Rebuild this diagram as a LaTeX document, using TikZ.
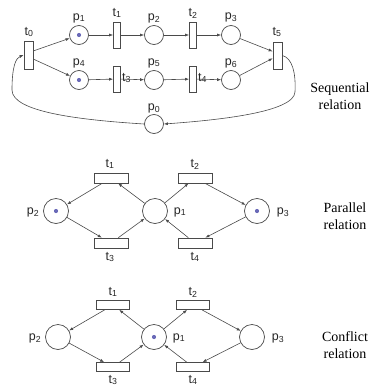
\documentclass[tikz,border=0pt]{standalone}
\usepackage{fontspec}
\setmainfont{Liberation Sans}
\newfontfamily\timesfont{Liberation Serif}
\usetikzlibrary{arrows.meta}
\definecolor{linegray}{HTML}{4A4A4A}
\definecolor{tokblue}{HTML}{6A6AB8}
\begin{document}
\begin{tikzpicture}[x=1pt,y=-1pt,
  place/.style={circle,draw=linegray,line width=0.7pt,minimum size=19pt,inner sep=0pt},
  bigplace/.style={place,minimum size=25pt},
  vtrans/.style={rectangle,draw=linegray,line width=0.7pt,minimum width=8pt,minimum height=27pt,inner sep=0pt},
  htrans/.style={rectangle,draw=linegray,line width=0.7pt,minimum width=34pt,minimum height=10pt,inner sep=0pt},
  tok/.style={circle,fill=tokblue,minimum size=4.2pt,inner sep=0pt},
  lbl/.style={inner sep=0pt,font=\fontsize{12.5}{14}\selectfont,text=black!85},
  reltext/.style={align=center,inner sep=0pt,font=\timesfont\fontsize{14}{17}\selectfont},
  arr/.style={draw=linegray,line width=0.6pt,-{Latex[length=4pt,width=3pt]}}
]
\useasboundingbox (0,0) rectangle (381,389);

% ---------- Sequential ----------
\node[vtrans,minimum height=28pt,minimum width=9pt] (st0) at (28.5,55) {};
\node[place] (sp1) at (79,35) {};
\node[tok] (sk1) at (sp1) {};
\node[vtrans,minimum width=7pt,minimum height=26pt] (st1) at (117,35) {};
\node[place] (sp2) at (154,35) {};
\node[vtrans,minimum width=7pt,minimum height=26pt] (st2) at (193,35) {};
\node[place] (sp3) at (231,35) {};
\node[vtrans,minimum width=9pt] (st5) at (277.5,55.5) {};
\node[place] (sp4) at (79,80) {};
\node[tok] (sk4) at (sp4) {};
\node[vtrans,minimum width=7pt,minimum height=26pt] (st3) at (117,79) {};
\node[place] (sp5) at (154,80) {};
\node[vtrans,minimum width=7pt,minimum height=26pt] (st4) at (193,79) {};
\node[place] (sp6) at (231,80) {};
\node[place] (sp0) at (154,124) {};

\node[lbl] (lt0) at (29,32) {t\textsubscript{0}};
\node[lbl] (lp1) at (79,18) {p\textsubscript{1}};
\node[lbl] (lt1) at (117,13) {t\textsubscript{1}};
\node[lbl] (lp2) at (154,18) {p\textsubscript{2}};
\node[lbl] (lt2) at (193,13) {t\textsubscript{2}};
\node[lbl] (lp3) at (231,17) {p\textsubscript{3}};
\node[lbl] (lt5) at (277,32) {t\textsubscript{5}};
\node[lbl] (lp4) at (79,63) {p\textsubscript{4}};
\node[lbl] (lt3) at (126.5,78) {t\textsubscript{3}};
\node[lbl] (lp5) at (154,63) {p\textsubscript{5}};
\node[lbl] (lt4) at (202.5,78) {t\textsubscript{4}};
\node[lbl] (lp6) at (231,63) {p\textsubscript{6}};
\node[lbl] (lp0) at (154,108) {p\textsubscript{0}};

\draw[arr] (st0.40) -- (sp1);
\draw[arr] (st0.-40) -- (sp4);
\draw[arr] (sp1) -- (st1);
\draw[arr] (st1) -- (sp2);
\draw[arr] (sp2) -- (st2);
\draw[arr] (st2) -- (sp3);
\draw[arr] (sp3) -- (st5.140);
\draw[arr] (sp4) -- (st3);
\draw[arr] (st3) -- (sp5);
\draw[arr] (sp5) -- (st4);
\draw[arr] (st4) -- (sp6);
\draw[arr] (sp6) -- (st5.-150);
\draw[arr] (st5.east) .. controls (292,58) and (296,72) .. (295,92)
   .. controls (294,112) and (220,120) .. (sp0.east);
\draw[arr] (sp0.west) .. controls (80,120) and (12,112) .. (12,90)
   .. controls (12,66) and (16,58) .. (st0.west);

\node[reltext] (seqtxt) at (340,96) {Sequential\\relation};

% ---------- Parallel ----------
\node[htrans] (mt1) at (111,178) {};
\node[htrans] (mt2) at (195,178) {};
\node[bigplace] (mp2) at (56,211) {};
\node[tok] (mk2) at (mp2) {};
\node[bigplace] (mp1) at (155,211) {};
\node[bigplace] (mp3) at (257,211) {};
\node[tok] (mk3) at (mp3) {};
\node[htrans] (mt3) at (111,243) {};
\node[htrans] (mt4) at (195,243) {};

\node[lbl] (mlt1) at (110,164) {t\textsubscript{1}};
\node[lbl] (mlt2) at (195,164) {t\textsubscript{2}};
\node[lbl] (mlp2) at (33,212) {p\textsubscript{2}};
\node[lbl] (mlp1) at (180,212) {p\textsubscript{1}};
\node[lbl] (mlp3) at (283,212) {p\textsubscript{3}};
\node[lbl] (mlt3) at (110,257) {t\textsubscript{3}};
\node[lbl] (mlt4) at (195,257) {t\textsubscript{4}};

\draw[arr] (mt1) -- (mp2);
\draw[arr] (mp1) -- (mt1);
\draw[arr] (mp1) -- (mt2);
\draw[arr] (mt2) -- (mp3);
\draw[arr] (mp2) -- (mt3);
\draw[arr] (mt3) -- (mp1);
\draw[arr] (mt4) -- (mp1);
\draw[arr] (mp3) -- (mt4);

\node[reltext] (partxt) at (345,216) {Parallel\\relation};

% ---------- Conflict ----------
\node[htrans,minimum width=33pt,minimum height=9pt] (ct1) at (113,305) {};
\node[htrans,minimum width=33pt,minimum height=9pt] (ct2) at (193,305) {};
\node[bigplace] (cp2) at (58,337) {};
\node[bigplace] (cp1) at (154,337) {};
\node[tok] (ck1) at (cp1) {};
\node[bigplace] (cp3) at (252,337) {};
\node[htrans,minimum width=33pt,minimum height=9pt] (ct3) at (113,367) {};
\node[htrans,minimum width=33pt,minimum height=9pt] (ct4) at (193,367) {};

\node[lbl] (clt1) at (113,292) {t\textsubscript{1}};
\node[lbl] (clt2) at (193,292) {t\textsubscript{2}};
\node[lbl] (clp2) at (35,338) {p\textsubscript{2}};
\node[lbl] (clp1) at (179,338) {p\textsubscript{1}};
\node[lbl] (clp3) at (278,338) {p\textsubscript{3}};
\node[lbl] (clt3) at (113,380) {t\textsubscript{3}};
\node[lbl] (clt4) at (193,380) {t\textsubscript{4}};

\draw[arr] (ct1) -- (cp2);
\draw[arr] (cp1) -- (ct1);
\draw[arr] (cp1) -- (ct2);
\draw[arr] (ct2) -- (cp3);
\draw[arr] (cp2) -- (ct3);
\draw[arr] (ct3) -- (cp1);
\draw[arr] (ct4) -- (cp1);
\draw[arr] (cp3) -- (ct4);

\node[reltext] (contxt) at (345,345) {Conflict\\relation};
\end{tikzpicture}
\end{document}
